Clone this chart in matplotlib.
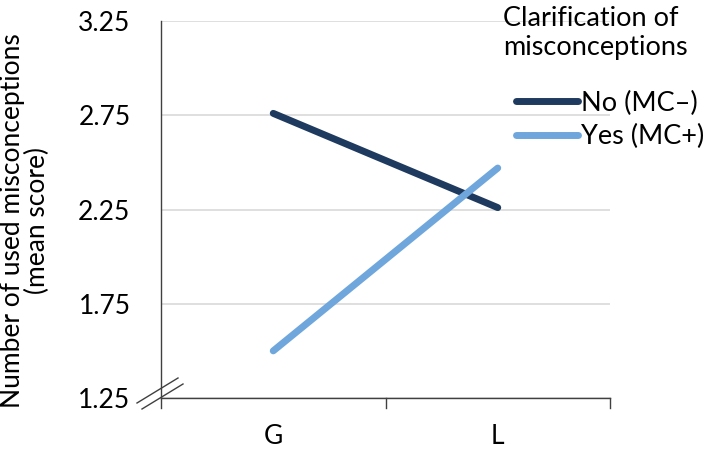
import matplotlib
matplotlib.use("Agg")
import matplotlib.pyplot as plt
from matplotlib.lines import Line2D

plt.rcParams['font.family'] = ['Lato', 'DejaVu Sans']

categories = ["G", "L"]
series_names = ["No (MC\u2013)", "Yes (MC+)"]
no_values = [2.76, 2.26]
yes_values = [1.50, 2.47]
y_ticks = [1.25, 1.75, 2.25, 2.75, 3.25]
y_tick_labels = ["1.25", "1.75", "2.25", "2.75", "3.25"]

W, H = 708, 449
fig = plt.figure(figsize=(W / 100, H / 100), dpi=100)
ax = fig.add_axes([161 / W, 1 - 398 / H, (610 - 161) / W, (398 - 21) / H])

colors = ["#1f3a5f", "#6fa6dc"]
x = [0.5, 1.5]
for vals, c, name in zip([no_values, yes_values], colors, series_names):
    ax.plot(x, vals, color=c, lw=5, solid_capstyle='round', label=name, zorder=3)

ax.set_xlim(0, 2)
ax.set_ylim(1.25, 3.25)
ax.set_yticks(y_ticks)
ax.set_yticklabels(y_tick_labels)
ax.set_xticks(x)
ax.set_xticklabels(categories)
ax.grid(axis='y', color='#d9d9d9', lw=1.2, zorder=0)
ax.set_axisbelow(True)

for s in ['top', 'right']:
    ax.spines[s].set_visible(False)
for s in ['left', 'bottom']:
    ax.spines[s].set_color('#404040')
    ax.spines[s].set_linewidth(1.0)

ax.tick_params(axis='y', length=0, pad=22, labelsize=19, colors='black')
ax.tick_params(axis='x', length=0, pad=19, labelsize=19, colors='black')
# category boundary ticks
for xb in [0, 1, 2]:
    ax.plot([xb, xb], [0, -10 / 377], transform=ax.get_xaxis_transform(), color='#404040', lw=1.0, clip_on=False)

# axis break marks
for dx in [0, 5]:
    x0, y0 = (137 + dx) / W, 1 - (403 + 6 * dx / 5) / H
    x1, y1 = (178 + dx) / W, 1 - (378 + 6 * dx / 5) / H
    fig.add_artist(Line2D([x0, x1], [y0, y1], color='#404040', lw=1.0))

fig.text(25 / W, 1 - 221 / H, "Number of used misconceptions\n(mean score)",
         rotation=90, ha='center', va='center', fontsize=19, linespacing=0.95)

fig.text(503 / W, 1 - 33 / H, "Clarification of\nmisconceptions", ha='left', va='center',
         fontsize=19.5, linespacing=1.25, multialignment='left')

handles = [Line2D([0], [0], color=c, lw=5, solid_capstyle='round') for c in colors]
fig.legend(handles, series_names, loc='center left', bbox_to_anchor=(516 / W, 1 - 120 / H),
           frameon=False, fontsize=19.5, handlelength=2.3, handletextpad=0.1, labelspacing=0.3,
           borderpad=0, borderaxespad=0)

fig.savefig("out.png", dpi=100)
